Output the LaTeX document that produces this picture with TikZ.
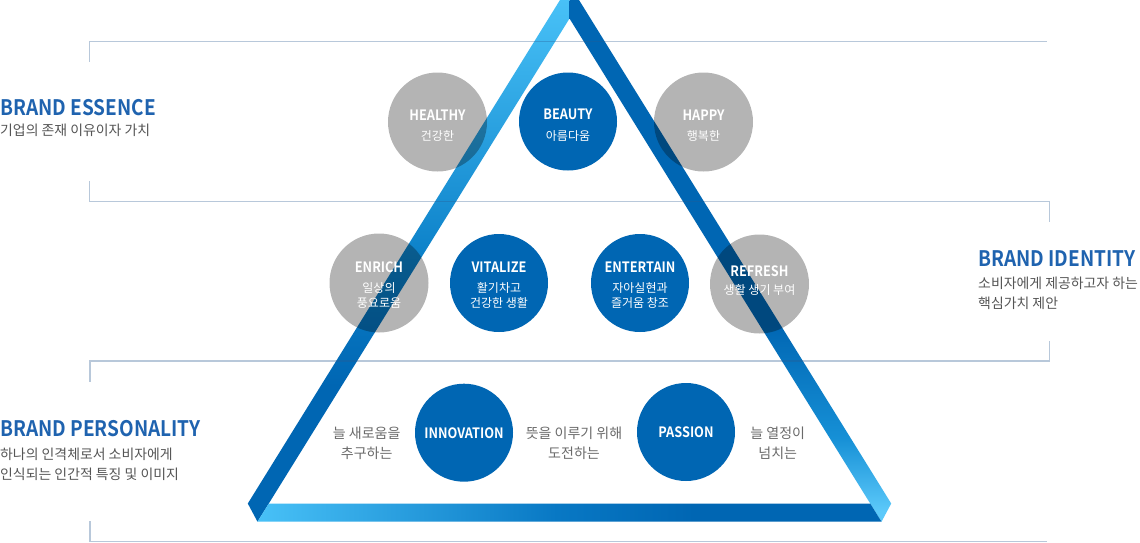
\documentclass[tikz,border=0pt]{standalone}
\usepackage{fontspec}
\setmainfont{Noto Sans CJK KR}
\newfontfamily\hdfont{Noto Sans CJK KR Bold}[FakeStretch=0.89]
\definecolor{bdark}{HTML}{0066B3}
\definecolor{bmid}{HTML}{0B80C8}
\definecolor{blight}{HTML}{48C1F7}
\definecolor{rlight}{HTML}{5CC9FA}
\definecolor{rmid}{HTML}{1690D6}
\definecolor{bmidb}{HTML}{0878C4}
\definecolor{headblue}{HTML}{1F63AF}
\definecolor{subgray}{HTML}{555555}
\definecolor{sidegray}{HTML}{6A6A6A}
\definecolor{rulecol}{HTML}{2A5A90}
\pgfdeclareverticalshading{leftband}{100bp}{color(0bp)=(bdark); color(38bp)=(bdark); color(50bp)=(bmid); color(75bp)=(blight); color(100bp)=(blight)}
\pgfdeclareverticalshading{rightband}{100bp}{color(0bp)=(rlight); color(26bp)=(rlight); color(33bp)=(rmid); color(44bp)=(bdark); color(100bp)=(bdark)}
\pgfdeclarehorizontalshading{bottomband}{100bp}{color(0bp)=(blight); color(25bp)=(blight); color(49bp)=(bmidb); color(60bp)=(bdark); color(100bp)=(bdark)}
\begin{document}
\begin{tikzpicture}[x=1pt,y=-1pt,
  rulestyle/.style={draw=rulecol, draw opacity=0.33, line width=1.2pt},
  graycirc/.style={circle, minimum size=99pt, inner sep=0pt, fill=black, fill opacity=0.294, draw=none},
  bluecirc/.style={circle, minimum size=98pt, inner sep=0pt, fill=bdark, draw=none},
  ttl/.style={text=white, font=\hdfont\fontsize{14.3}{16}\selectfont, inner sep=0pt, anchor=base},
  kr/.style={text=white, font=\fontsize{12}{14}\selectfont, inner sep=0pt, anchor=base},
  side/.style={text=sidegray, font=\fontsize{14}{16}\selectfont, inner sep=0pt, anchor=base},
  hd/.style={text=headblue, font=\hdfont\fontsize{21.4}{24}\selectfont, inner sep=0pt, anchor=base west},
  sub/.style={text=subgray, font=\fontsize{13.9}{16}\selectfont, inner sep=0pt, anchor=base west}]
\useasboundingbox (0,0) rectangle (1140,542);
\fill[white] (0,0) rectangle (1140,542);
% bands
\shade[shading=leftband] (560,0) -- (569.5,0) -- (569.5,18.5) -- (257.5,521.7) -- (247.8,503.5) -- cycle;
\shade[shading=rightband] (569.5,0) -- (579,0) -- (891.2,503.5) -- (881.5,521.7) -- (569.5,18.5) -- cycle;
\shade[shading=bottomband] (268.8,503.5) -- (870.2,503.5) -- (881.5,521.7) -- (257.5,521.7) -- cycle;
% bracket rules
\draw[rulestyle] (89.5,61.5) -- (89.5,41.3) -- (1046.7,41.3);
\draw[rulestyle] (89.5,181) -- (89.5,201.3) -- (1049.3,201.3) -- (1049.3,221.7);
\draw[rulestyle] (1049.3,341) -- (1049.3,361) -- (90,361) -- (90,381.7);
\draw[rulestyle] (90,521) -- (90,541.3) -- (1046.7,541.3);
% circles
\node[graycirc] (healthy) at (437.5,122) {};
\node[bluecirc] (beauty) at (568,121.5) {};
\node[graycirc] (happy) at (703.5,122) {};
\node[graycirc] (enrich) at (379,283) {};
\node[bluecirc] (vitalize) at (499,283) {};
\node[bluecirc] (entertain) at (640,283) {};
\node[graycirc] (refresh) at (759.5,284) {};
\node[bluecirc] (innovation) at (464,432.7) {};
\node[bluecirc] (passion) at (686,432) {};
% circle labels
\node[ttl] (healthyT) at (437.5,120.3) {HEALTHY};
\node[kr] (healthyK) at (437.5,140.6) {건강한};
\node[ttl] (beautyT) at (568,119) {BEAUTY};
\node[kr] (beautyK) at (568,140.3) {아름다움};
\node[ttl] (happyT) at (703.5,120.3) {HAPPY};
\node[kr] (happyK) at (703.5,140.6) {행복한};
\node[ttl] (enrichT) at (379,272) {ENRICH};
\node[kr] (enrichK1) at (379,292.9) {일상의};
\node[kr] (enrichK2) at (379,307.3) {풍요로움};
\node[ttl] (vitalizeT) at (499,272) {VITALIZE};
\node[kr] (vitalizeK1) at (499,292.9) {활기차고};
\node[kr] (vitalizeK2) at (499,307.3) {건강한 생활};
\node[ttl] (entertainT) at (640,272) {ENTERTAIN};
\node[kr] (entertainK1) at (640,292.9) {자아실현과};
\node[kr] (entertainK2) at (640,307.3) {즐거움 창조};
\node[ttl] (refreshT) at (759.5,276.3) {REFRESH};
\node[kr] (refreshK) at (759.5,294.6) {생활 생기 부여};
\node[ttl] (innovationT) at (464,438) {INNOVATION};
\node[ttl] (passionT) at (686,437.3) {PASSION};
% side texts
\node[side] (s1a) at (366.7,438.1) {늘 새로움을};
\node[side] (s1b) at (366.7,458.1) {추구하는};
\node[side] (s2a) at (574,438.1) {뜻을 이루기 위해};
\node[side] (s2b) at (574,458.1) {도전하는};
\node[side] (s3a) at (777.7,438.1) {늘 열정이};
\node[side] (s3b) at (777.7,458.1) {넘치는};
% headings
\node[hd] (essence) at (0,115) {BRAND ESSENCE};
\node[sub] (essenceS) at (0,135.4) {기업의 존재 이유이자 가치};
\node[hd] (identity) at (978,266) {BRAND IDENTITY};
\node[sub] (identityS1) at (978,288.4) {소비자에게 제공하고자 하는};
\node[sub] (identityS2) at (978,308) {핵심가치 제안};
\node[hd] (personality) at (0,436.7) {BRAND PERSONALITY};
\node[sub] (personalityS1) at (0,459.4) {하나의 인격체로서 소비자에게};
\node[sub] (personalityS2) at (0,479.4) {인식되는 인간적 특징 및 이미지};
\end{tikzpicture}
\end{document}
